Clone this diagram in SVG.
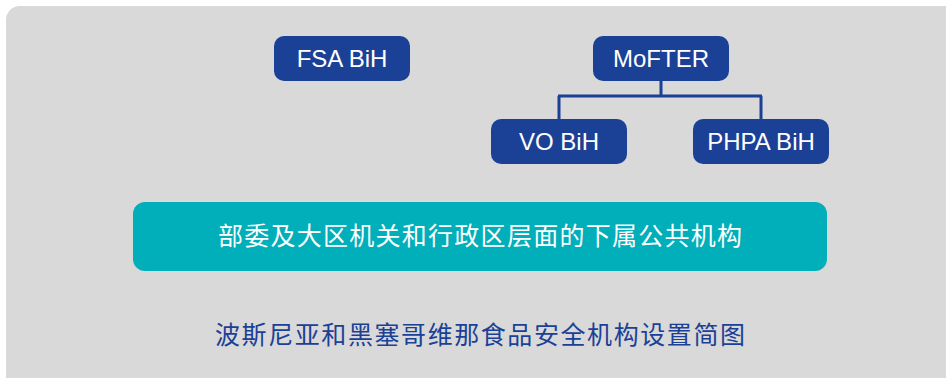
<svg xmlns="http://www.w3.org/2000/svg" width="946" height="378" viewBox="0 0 946 378">
<style>
.node rect{fill:#1b4196}
.node text{fill:#fff;font-family:"Liberation Sans",Arial,sans-serif;font-size:24px;text-anchor:middle}
.conn{stroke:#1b4196;stroke-width:3;fill:none}
.cjk{font-family:"Noto Sans CJK SC",sans-serif;text-anchor:middle}
</style>
<rect x="6" y="6" width="960" height="390" rx="14" fill="#d9d9d9"/>
<g id="connectors">
<path class="conn" d="M661 81V96M558 96H762M559 96V119M761 96V119"/>
</g>
<g id="fsa" class="node"><rect x="274" y="36" width="136" height="45" rx="10"/><text x="342" y="67">FSA BiH</text></g>
<g id="mofter" class="node"><rect x="593" y="36" width="136" height="45" rx="10"/><text x="661" y="67">MoFTER</text></g>
<g id="vo" class="node"><rect x="491" y="119" width="136" height="45" rx="10"/><text x="559" y="150">VO BiH</text></g>
<g id="phpa" class="node"><rect x="693" y="119" width="136" height="45" rx="10"/><text x="761" y="150">PHPA BiH</text></g>
<g id="public">
<rect x="133" y="202" width="694" height="69" rx="12" fill="#00afba"/>
<text class="cjk" x="480" y="245" font-size="25" fill="#fff" textLength="524" lengthAdjust="spacing">部委及大区机关和行政区层面的下属公共机构</text>
</g>
<text class="cjk" x="480" y="344" font-size="25" fill="#1b4196" textLength="530" lengthAdjust="spacing">波斯尼亚和黑塞哥维那食品安全机构设置简图</text>
</svg>
